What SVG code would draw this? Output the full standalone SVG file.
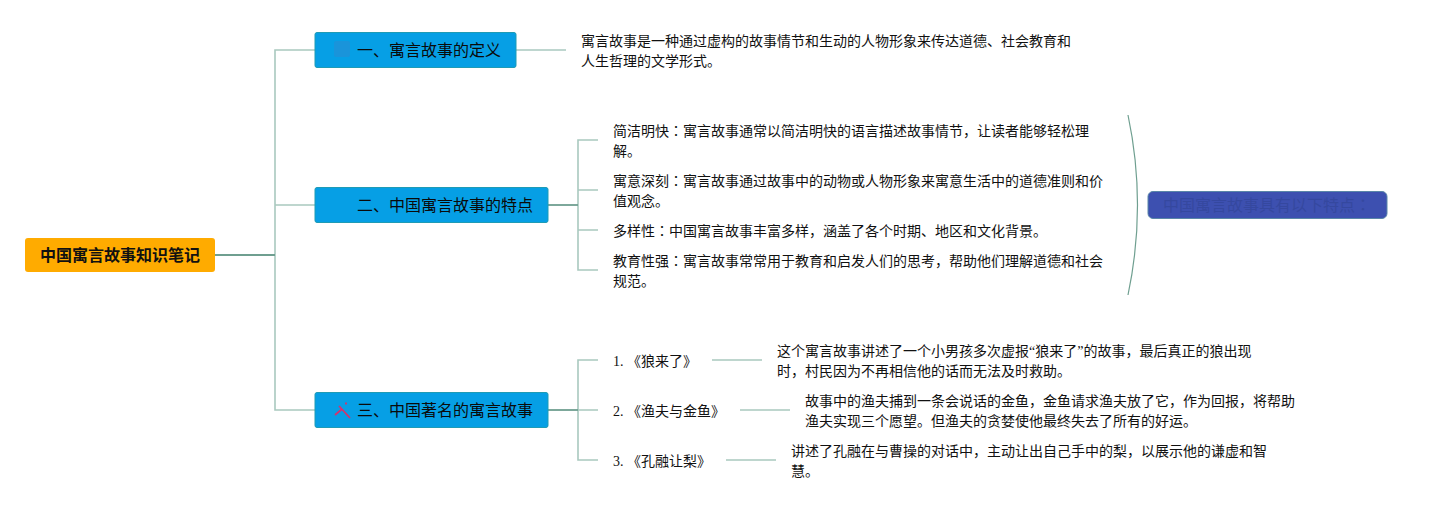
<svg xmlns="http://www.w3.org/2000/svg" width="1432" height="510" viewBox="0 0 1432 510">
<style>
text{font-family:"Liberation Serif","Noto Sans CJK SC",serif;fill:#111}
.t{font-size:14px}
.b{font-size:16px;fill:#0a0a0a}
.c{font-family:"Noto Sans CJK TC",sans-serif}
.l{fill:none;stroke:#a9c9bf;stroke-width:1.600}
.d{fill:none;stroke:#6f9f90;stroke-width:1.800}
.box{fill:#069fe5;stroke:#1f9bb5;stroke-width:1}
</style>
<rect width="1432" height="510" fill="#fff"/>
<g id="connectors">
<path class="l" d="M275 255V50H315M275 255V410H315M275 205H315"/>
<path class="d" d="M215 255H275"/>
<path class="l" d="M516 50H566"/>
<path class="l" d="M598 140H578V270H598M578 190H598M578 230H598"/>
<path class="d" d="M548 205H578"/>
<path class="l" d="M598 360H578V460H598M578 410H598"/>
<path class="d" d="M548 410H578"/>
<path class="l" d="M712 360H762M740 410H790M726 460H776"/>
<path d="M1128 115Q1147 205 1128 295" fill="none" stroke="#6f9f90" stroke-width="1.200"/>
</g>
<g id="root"><rect x="25" y="238" width="190" height="34" rx="3" fill="#ffab00"/><text x="120" y="261" text-anchor="middle" style="font-size:16px;font-weight:bold;fill:#111">中国寓言故事知识笔记</text></g>
<g id="n1"><rect class="box" x="315" y="32.500" width="201" height="35" rx="2"/><rect x="334" y="41" width="16" height="16" rx="2" fill="#1a94da"/><text class="b" x="357" y="56">一、寓言故事的定义</text></g>
<g id="n2"><rect class="box" x="315" y="187.500" width="233" height="35" rx="2"/><text class="b" x="357" y="211">二、中国寓言故事的特点</text></g>
<g id="n3"><rect class="box" x="315" y="392.500" width="233" height="35" rx="2"/>
<path d="M339 406L350 418M335 415L342 409M346 402.500v2" fill="none" stroke="#d6336c" stroke-width="1.800"/>
<text class="b" x="357" y="416">三、中国著名的寓言故事</text></g>
<g id="d1"><text class="t" x="581" y="46">寓言故事是一种通过虚构的故事情节和生动的人物形象来传达道德、社会教育和</text><text class="t" x="581" y="66">人生哲理的文学形式。</text></g>
<g id="f1"><text class="t" x="613" y="136">简洁明快<tspan class="c">：</tspan>寓言故事通常以简洁明快的语言描述故事情节，让读者能够轻松理</text><text class="t" x="613" y="156">解。</text></g>
<g id="f2"><text class="t" x="613" y="186">寓意深刻<tspan class="c">：</tspan>寓言故事通过故事中的动物或人物形象来寓意生活中的道德准则和价</text><text class="t" x="613" y="206">值观念。</text></g>
<g id="f3"><text class="t" x="613" y="236">多样性<tspan class="c">：</tspan>中国寓言故事丰富多样，涵盖了各个时期、地区和文化背景。</text></g>
<g id="f4"><text class="t" x="613" y="266">教育性强<tspan class="c">：</tspan>寓言故事常常用于教育和启发人们的思考，帮助他们理解道德和社会</text><text class="t" x="613" y="286">规范。</text></g>
<g id="summary"><rect x="1148" y="191.500" width="239" height="27" rx="5" fill="#3d50b0" stroke="#5a86a8"/><text x="1163" y="211" style="font-size:16px;fill:#35489f">中国寓言故事具有以下特点<tspan class="c">：</tspan></text></g>
<g id="s1"><text class="t" x="613" y="366">1. 《狼来了》</text></g>
<g id="s1d"><text class="t" x="777" y="356">这个寓言故事讲述了一个小男孩多次虚报“狼来了”的故事，最后真正的狼出现</text><text class="t" x="777" y="376">时，村民因为不再相信他的话而无法及时救助。</text></g>
<g id="s2"><text class="t" x="613" y="416">2. 《渔夫与金鱼》</text></g>
<g id="s2d"><text class="t" x="805" y="406">故事中的渔夫捕到一条会说话的金鱼，金鱼请求渔夫放了它，作为回报，将帮助</text><text class="t" x="805" y="426">渔夫实现三个愿望。但渔夫的贪婪使他最终失去了所有的好运。</text></g>
<g id="s3"><text class="t" x="613" y="466">3. 《孔融让梨》</text></g>
<g id="s3d"><text class="t" x="791" y="456">讲述了孔融在与曹操的对话中，主动让出自己手中的梨，以展示他的谦虚和智</text><text class="t" x="791" y="476">慧。</text></g>
</svg>
